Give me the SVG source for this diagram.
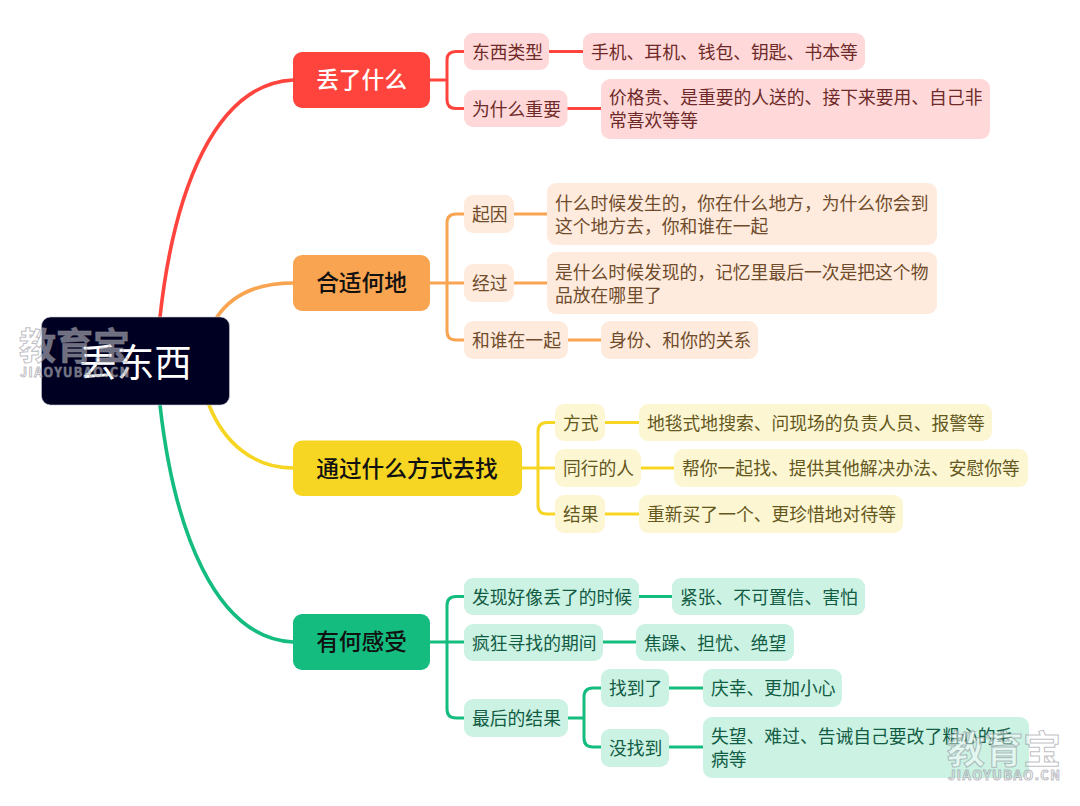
<svg xmlns="http://www.w3.org/2000/svg" width="1080" height="806" viewBox="0 0 1080 806">
<style>
text{font-family:"Noto Sans CJK SC","Noto Sans",sans-serif}
.l1{font-size:22.7px;text-anchor:middle;font-weight:500}
.l2{font-size:17.8px}
.c{fill:none;stroke-width:3;stroke-linecap:round}
.m{stroke-width:3.6}
.r .bg{fill:#ffd9d9}.r text{fill:#6e2a28}
.o .bg{fill:#feebdd}.o text{fill:#704b2b}
.y .bg{fill:#fdf6d3}.y text{fill:#64581d}
.g .bg{fill:#cbf2e3}.g text{fill:#125c44}
.wm{fill:#fff;fill-opacity:.45;stroke:#85858f;stroke-opacity:.55;stroke-width:1;font-weight:700;text-anchor:middle}
</style>
<g id="connectors">
<g class="c" stroke="#ff443d">
<path class="m" d="M160 317C174 190 215 84 293 80"/>
<path d="M430 80H447M447 80V60Q447 51.500 456 51.500H464M447 80V100Q447 108.500 456 108.500H464"/>
<path d="M549 51.500H583M567.500 108.500H601"/>
</g>
<g class="c" stroke="#f9a450">
<path class="m" d="M217 317C232 295 258 283 293 283"/>
<path d="M430 283H464M447 283V223Q447 214 456 214H464M447 283V331Q447 340 456 340H464"/>
<path d="M514 214H547M514 283H547M568 340H601"/>
</g>
<g class="c" stroke="#f6d523">
<path class="m" d="M209 405C224 443 254 468 293 468"/>
<path d="M522 468H555M538 468V431.500Q538 422.500 547 422.500H555M538 468V505Q538 514 547 514H555"/>
<path d="M605 422.500H639M641 468H674M605 514H639"/>
</g>
<g class="c" stroke="#14bd7f">
<path class="m" d="M160 405C174 530 215 638 293 642"/>
<path d="M430 642H447M447 642V605.500Q447 596.500 456 596.500H464M447 642H464M447 642V709Q447 718 456 718H464"/>
<path d="M639 596.500H672M603 642H636"/>
<path d="M568 718H584M584 718V697Q584 688 593 688H601M584 718V738Q584 747 593 747H601"/>
<path d="M669 688H703M669 747H703"/>
</g>
</g>
<g id="root">
<rect x="41.500" y="317" width="188" height="88" rx="9" fill="#000022" stroke="#c9c9d6" stroke-width=".6"/>
<text x="135.500" y="376" font-size="37.500" fill="#fff" text-anchor="middle">丢东西</text>
</g>
<g id="n-lost">
<rect x="293" y="52" width="137" height="56" rx="9" fill="#ff443d"/>
<text class="l1" x="361.500" y="88" fill="#fff">丢了什么</text>
</g>
<g id="n-where">
<rect x="293" y="255" width="137" height="56" rx="9" fill="#f9a450"/>
<text class="l1" x="361.500" y="291" fill="#111">合适何地</text>
</g>
<g id="n-how">
<rect x="293" y="440.500" width="229" height="55.500" rx="9" fill="#f6d523"/>
<text class="l1" x="407" y="476.500" fill="#111">通过什么方式去找</text>
</g>
<g id="n-feel">
<rect x="293" y="614" width="137" height="56" rx="9" fill="#14bd7f"/>
<text class="l1" x="361.500" y="650" fill="#111">有何感受</text>
</g>
<g class="r">
<g id="r1"><rect class="bg" x="464" y="33" width="85" height="37" rx="9"/><text class="l2" x="472" y="58.500">东西类型</text></g>
<g id="r2"><rect class="bg" x="464" y="90" width="103.500" height="37" rx="9"/><text class="l2" x="472" y="115.500">为什么重要</text></g>
<g id="r3"><rect class="bg" x="583" y="33" width="282" height="37" rx="9"/><text class="l2" x="591" y="58.500">手机、耳机、钱包、钥匙、书本等</text></g>
<g id="r4"><rect class="bg" x="601" y="79" width="389" height="60" rx="9"/><text class="l2" x="609" y="104">价格贵、是重要的人送的、接下来要用、自己非</text><text class="l2" x="609" y="127">常喜欢等等</text></g>
</g>
<g class="o">
<g id="o1"><rect class="bg" x="464" y="195" width="50" height="38" rx="9"/><text class="l2" x="472" y="220.500">起因</text></g>
<g id="o2"><rect class="bg" x="547" y="183" width="390" height="62" rx="9"/><text class="l2" x="555" y="210">什么时候发生的，你在什么地方，为什么你会到</text><text class="l2" x="555" y="233">这个地方去，你和谁在一起</text></g>
<g id="o3"><rect class="bg" x="464" y="264" width="50" height="38" rx="9"/><text class="l2" x="472" y="289.500">经过</text></g>
<g id="o4"><rect class="bg" x="547" y="252" width="390" height="62" rx="9"/><text class="l2" x="555" y="279">是什么时候发现的，记忆里最后一次是把这个物</text><text class="l2" x="555" y="302">品放在哪里了</text></g>
<g id="o5"><rect class="bg" x="464" y="321" width="104" height="38" rx="9"/><text class="l2" x="472" y="346.500">和谁在一起</text></g>
<g id="o6"><rect class="bg" x="601" y="321" width="157" height="38" rx="9"/><text class="l2" x="609" y="346.500">身份、和你的关系</text></g>
</g>
<g class="y">
<g id="y1"><rect class="bg" x="555" y="404" width="50" height="37" rx="9"/><text class="l2" x="563" y="429.500">方式</text></g>
<g id="y2"><rect class="bg" x="639" y="404" width="353" height="37" rx="9"/><text class="l2" x="647" y="429.500">地毯式地搜索、问现场的负责人员、报警等</text></g>
<g id="y3"><rect class="bg" x="555" y="449" width="86" height="38" rx="9"/><text class="l2" x="563" y="474.500">同行的人</text></g>
<g id="y4"><rect class="bg" x="674" y="449" width="354" height="38" rx="9"/><text class="l2" x="682" y="474.500">帮你一起找、提供其他解决办法、安慰你等</text></g>
<g id="y5"><rect class="bg" x="555" y="495" width="50" height="38" rx="9"/><text class="l2" x="563" y="520.500">结果</text></g>
<g id="y6"><rect class="bg" x="639" y="495" width="264" height="38" rx="9"/><text class="l2" x="647" y="520.500">重新买了一个、更珍惜地对待等</text></g>
</g>
<g class="g">
<g id="g1"><rect class="bg" x="464" y="578" width="175" height="37" rx="9"/><text class="l2" x="472" y="603.500">发现好像丢了的时候</text></g>
<g id="g2"><rect class="bg" x="672" y="578" width="193" height="37" rx="9"/><text class="l2" x="680" y="603.500">紧张、不可置信、害怕</text></g>
<g id="g3"><rect class="bg" x="464" y="624" width="139" height="37" rx="9"/><text class="l2" x="472" y="649.500">疯狂寻找的期间</text></g>
<g id="g4"><rect class="bg" x="636" y="624" width="158" height="37" rx="9"/><text class="l2" x="644" y="649.500">焦躁、担忧、绝望</text></g>
<g id="g5"><rect class="bg" x="464" y="699" width="104" height="38" rx="9"/><text class="l2" x="472" y="724.500">最后的结果</text></g>
<g id="g6"><rect class="bg" x="601" y="669" width="68" height="38" rx="9"/><text class="l2" x="609" y="694.500">找到了</text></g>
<g id="g7"><rect class="bg" x="703" y="669" width="139" height="38" rx="9"/><text class="l2" x="711" y="694.500">庆幸、更加小心</text></g>
<g id="g8"><rect class="bg" x="601" y="729" width="68" height="38" rx="9"/><text class="l2" x="609" y="754.500">没找到</text></g>
<g id="g9"><rect class="bg" x="703" y="717" width="326" height="61" rx="9"/><text class="l2" x="711" y="743">失望、难过、告诫自己要改了粗心的毛</text><text class="l2" x="711" y="766">病等</text></g>
</g>
<g id="watermarks">
<text class="wm" x="74.500" y="360" font-size="37">教育宝</text>
<text class="wm" x="74.500" y="377" font-size="12.500" stroke-width=".6" textLength="109" lengthAdjust="spacing">JIAOYUBAO.CN</text>
<text class="wm" x="1004" y="763" font-size="38">教育宝</text>
<text class="wm" x="1004" y="780" font-size="13" stroke-width=".6" textLength="112" lengthAdjust="spacing">JIAOYUBAO.CN</text>
</g>
</svg>
